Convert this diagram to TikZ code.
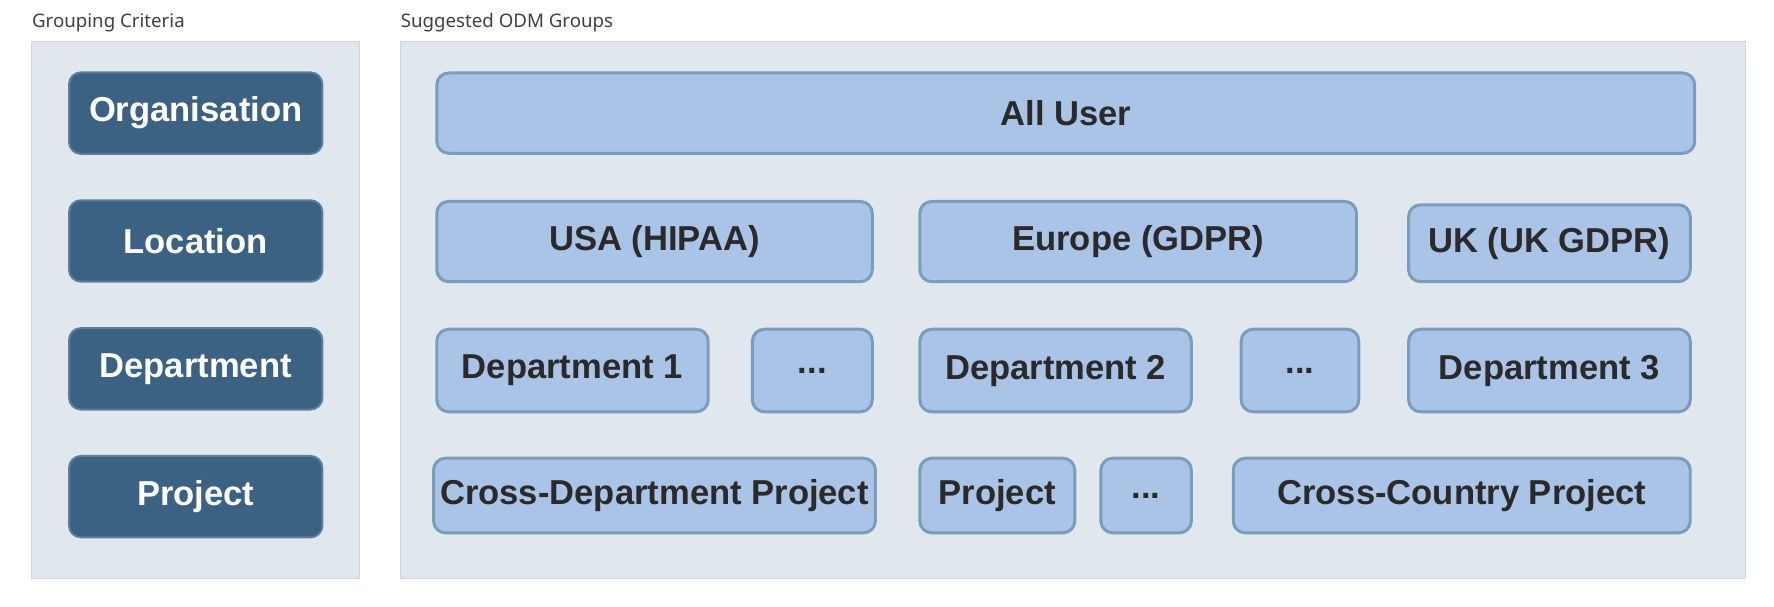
\documentclass[tikz,border=0pt]{standalone}
\usepackage{fontspec}
\setmainfont{Liberation Sans}
\newfontfamily\titlefont{Noto Sans}
\definecolor{panelbg}{HTML}{E1E8ED}
\definecolor{panelline}{HTML}{CCD6DF}
\definecolor{critfill}{HTML}{3B6183}
\definecolor{critline}{HTML}{5C7E9E}
\definecolor{grpfill}{HTML}{A9C4E6}
\definecolor{grpline}{HTML}{7A9CBD}
\definecolor{grptext}{HTML}{2A2A2A}
\begin{document}
\begin{tikzpicture}[x=0.02cm,y=-0.02cm]
        \tikzstyle{panel} = [fill=panelbg, draw=panelline, line width=0.6pt]
        \tikzstyle{title} = [anchor=south west, inner sep=0pt, font=\titlefont\fontsize{9.4}{11}\selectfont, text=black!75]
        \tikzstyle{crit} = [rectangle, rounded corners=6pt, minimum width=4.48cm, minimum height=1.44cm, text centered, fill=critfill, draw=critline, line width=1pt, text=white, font=\bfseries\fontsize{17.4}{20}\selectfont]
        \tikzstyle{grp} = [rectangle, rounded corners=6pt, minimum height=1.42cm, text centered, fill=grpfill, draw=grpline, line width=1.5pt, text=grptext, font=\bfseries\fontsize{17.4}{20}\selectfont]
        \useasboundingbox (0,0) rectangle (1568,536);
        % panels
        \draw[panel] (28,37) rectangle (318,511);
        \draw[panel] (354,37) rectangle (1543,511);
        \node[title] (t1) at (28,29) {Grouping Criteria};
        \node[title] (t2) at (354,29) {Suggested ODM Groups};
        % grouping criteria
        \node (org) [crit] at (173,100) {Organisation};
        \node (loc) [crit] at (173,213) {Location};
        \node (dep) [crit] at (173,326) {Department};
        \node (pro) [crit] at (173,439) {Project};
        % groups
        \node (all) [grp, minimum width=22.24cm] at (942,100) {All User};
        \node (usa) [grp, minimum width=7.7cm] at (578.5,213.5) {USA (HIPAA)};
        \node (eu) [grp, minimum width=7.72cm] at (1006,213.5) {Europe (GDPR)};
        \node (uk) [grp, minimum width=4.98cm, minimum height=1.36cm] at (1369.5,215) {UK (UK GDPR)};
        \node (d1) [grp, minimum width=4.8cm, minimum height=1.46cm] at (506,327.5) {Department 1};
        \node (e1) [grp, minimum width=2.12cm, minimum height=1.46cm] at (718,327.5) {...};
        \node (d2) [grp, minimum width=4.8cm, minimum height=1.46cm] at (933,327.5) {Department 2};
        \node (e2) [grp, minimum width=2.08cm, minimum height=1.46cm] at (1149,327.5) {...};
        \node (d3) [grp, minimum width=4.98cm, minimum height=1.46cm] at (1369.5,327.5) {Department 3};
        \node (cd) [grp, minimum width=7.7cm, minimum height=1.32cm] at (578.5,438) {Cross-Department Project};
        \node (pj) [grp, minimum width=2.74cm, minimum height=1.32cm] at (881.5,438) {Project};
        \node (e3) [grp, minimum width=1.6cm, minimum height=1.32cm] at (1013,438) {...};
        \node (cc) [grp, minimum width=8.08cm, minimum height=1.32cm] at (1292,438) {Cross-Country Project};
\end{tikzpicture}
\end{document}
